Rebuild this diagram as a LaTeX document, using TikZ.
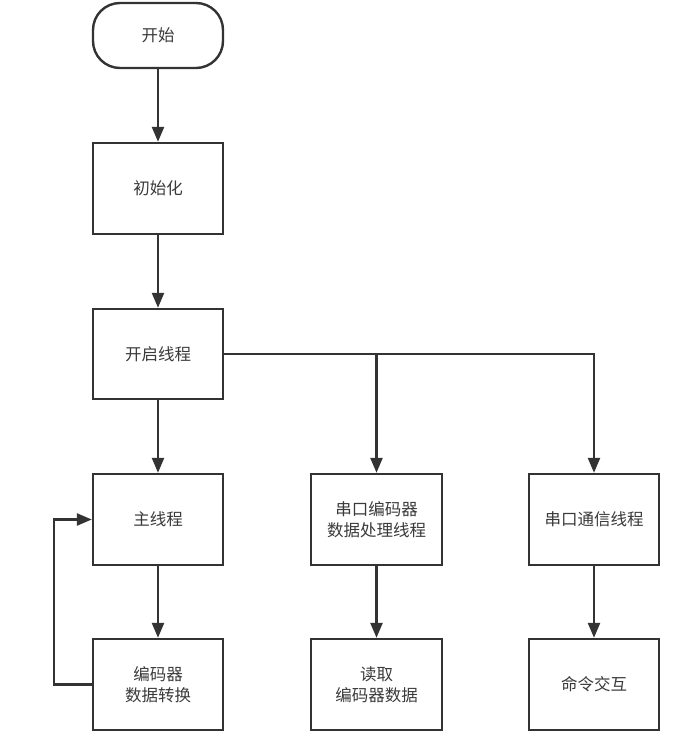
\documentclass[tikz,border=0pt]{standalone}
\usepackage{fontspec}
\setmainfont{Noto Sans CJK SC}
\usetikzlibrary{arrows.meta}
\definecolor{ink}{HTML}{333333}
\definecolor{txt}{HTML}{3A3A3A}
\begin{document}
\begin{tikzpicture}[x=1pt,y=-1pt,
  box/.style={draw=ink,line width=2.4pt,minimum width=130pt,minimum height=91pt,inner sep=0pt,
    align=center,text=txt,font=\fontsize{16.5pt}{21pt}\selectfont},
  startbox/.style={box,minimum height=65pt,rounded corners=27pt},
  arr/.style={draw=ink,line width=2.4pt,-{Triangle[width=12pt,length=15pt]}}]
\useasboundingbox (0,0) rectangle (682,754);
\node[startbox] (start) at (158,35.5) {开始};
\node[box] (init) at (158,188.5) {初始化};
\node[box,minimum height=90pt] (thr) at (158,354) {开启线程};
\node[box] (main) at (158,519.5) {主线程};
\node[box] (conv) at (158,684.5) {编码器\\数据转换};
\node[box,minimum width=131pt] (ser) at (376.5,519.5) {串口编码器\\数据处理线程};
\node[box,minimum width=131pt] (read) at (376.5,684.5) {读取\\编码器数据};
\node[box] (com) at (594,519.5) {串口通信线程};
\node[box] (cmd) at (594,684.5) {命令交互};
\coordinate (lp) at (54,684.5);
\draw[arr] (start) -- (init);
\draw[arr] (init) -- (thr);
\draw[arr] (thr) -- (main);
\draw[arr] (main) -- (conv);
\draw[arr] (thr.east) -| (ser.north);
\draw[arr] (thr.east) -| (com.north);
\draw[arr] (ser) -- (read);
\draw[arr] (com) -- (cmd);
\draw[arr] (conv.west) -- (lp) |- (main.west);
\end{tikzpicture}
\end{document}
